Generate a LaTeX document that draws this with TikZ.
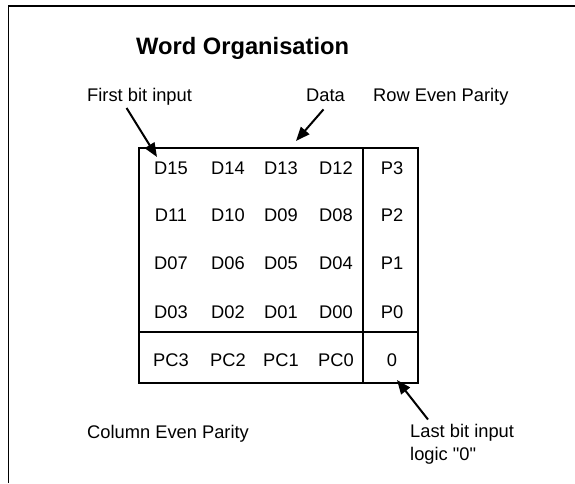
\documentclass[tikz,border=0pt]{standalone}
\usepackage{fontspec}
\setmainfont{Liberation Sans}[Ligatures=TeXOff]
\usetikzlibrary{arrows.meta}

\tikzset{
  cell/.style={inner sep=0pt, font=\fontsize{18.3}{24}\selectfont},
  lbl/.style={inner sep=0pt, anchor=base west, font=\fontsize{18.3}{23}\selectfont},
  ptr/.style={line width=2pt, -{Triangle[length=14pt,width=11pt]}},
}

\begin{document}
\begin{tikzpicture}[x=1pt,y=-1pt]
        \useasboundingbox (0,0) rectangle (575,483);
        \draw[line width=1.4pt] (8.5,483) -- (8.5,6) -- (575,6);

        \node[lbl, font=\bfseries\fontsize{23.7}{28}\selectfont] (title) at (136,54) {Word Organisation};
        \node[lbl] (first) at (87,101) {First bit input};
        \node[lbl] (data) at (306,101) {Data};
        \node[lbl] (rowpar) at (373,101) {Row Even Parity};
        \node[lbl] (colpar) at (87,438) {Column Even Parity};
        \node[lbl, anchor=north west, align=left] (last) at (410,424.5) {Last bit input\\logic "0"};

        \draw[line width=2.2pt] (139,148) rectangle (418,383);
        \draw[line width=2.2pt] (363,148) -- (363,383);
        \draw[line width=2.2pt] (139,332) -- (418,332);

        \foreach \yy/\a/\b/\c/\d/\p in {168/D15/D14/D13/D12/P3, 215/D11/D10/D09/D08/P2,
            263/D07/D06/D05/D04/P1, 312/D03/D02/D01/D00/P0, 360/PC3/PC2/PC1/PC0/0}{
          \node[cell] (c-\a) at (171,\yy) {\a};
          \node[cell] (c-\b) at (228,\yy) {\b};
          \node[cell] (c-\c) at (281,\yy) {\c};
          \node[cell] (c-\d) at (336,\yy) {\d};
          \node[cell] (c-\p) at (392,\yy) {\p};
        }

        \coordinate (in1) at (157,157);
        \coordinate (in2) at (296,141);
        \coordinate (in3) at (397,380);
        \draw[ptr] (first.south) ++(-13,3) -- (in1);
        \draw[ptr] (data.south) ++(-2,8) -- (in2);
        \draw[ptr] (last.north west) ++(18,-5) -- (in3);

      \end{tikzpicture}
\end{document}
